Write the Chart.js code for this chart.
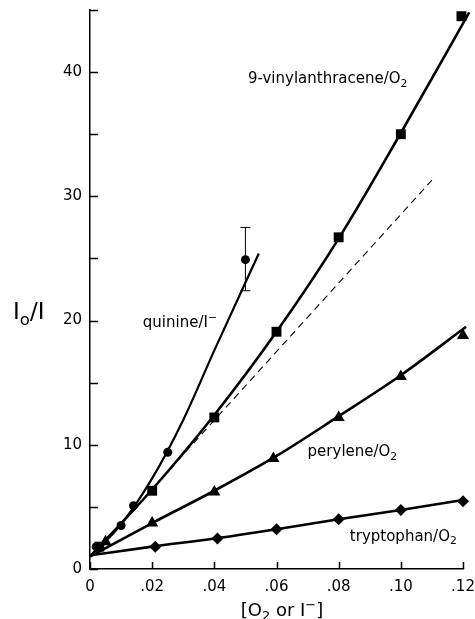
<!DOCTYPE html>
<html>
<head>
<meta charset="utf-8">
<script src="https://cdn.jsdelivr.net/npm/chart.js@4.4.1/dist/chart.umd.min.js"></script>
<style>
  html, body { margin: 0; padding: 0; background: #fff; }
  #wrap { width: 475px; height: 619px; position: relative; }
</style>
</head>
<body>
<div id="wrap"><canvas id="chartQuench"></canvas></div>
<script>
// measured points
const vinylX = [0.003, 0.02, 0.04, 0.06, 0.08, 0.10, 0.1195];
const vinylY = [1.8, 6.3, 12.2, 19.1, 26.7, 35.0, 44.5];
const quinineX = [0.002, 0.010, 0.014, 0.025, 0.050];
const quinineY = [1.8, 3.5, 5.1, 9.4, 24.9];
const peryleneX = [0.005, 0.02, 0.04, 0.059, 0.08, 0.10, 0.12];
const peryleneY = [2.2, 3.7, 6.2, 8.9, 12.2, 15.5, 18.8];
const tryptoX = [0.021, 0.041, 0.06, 0.08, 0.10, 0.12];
const tryptoY = [1.8, 2.45, 3.2, 4.0, 4.75, 5.45];

// error bar on last quinine point
const errX = [0.05];
const errLow = [22.4];
const errHigh = [27.5];

// drawn curves
const vinylFitX = [0, 0.02, 0.04, 0.06, 0.08, 0.10, 0.122];
const vinylFitY = [1.0, 6.4, 12.4, 19.1, 26.6, 35.1, 44.8];
const quinineFitX = [0, 0.01, 0.02, 0.03, 0.04, 0.0543];
const quinineFitY = [1.0, 3.6, 7.3, 12.0, 17.6, 25.4];
const peryleneFitX = [0, 0.02, 0.04, 0.06, 0.08, 0.10, 0.121];
const peryleneFitY = [1.0, 3.7, 6.3, 9.1, 12.3, 15.6, 19.5];
const tryptoFitX = [0, 0.02, 0.04, 0.06, 0.08, 0.10, 0.121];
const tryptoFitY = [1.1, 1.8, 2.45, 3.2, 4.0, 4.75, 5.6];
const dashX = [0.01, 0.11];
const dashY = [3.7, 31.3];

const xTicks = [0, 0.02, 0.04, 0.06, 0.08, 0.10, 0.12];
const yLabelTicks = [0, 10, 20, 30, 40];
const yTicks = [0, 5, 10, 15, 20, 25, 30, 35, 40, 45];

const FONT = '"DejaVu Sans", sans-serif';

function pts(xs, ys) {
  return xs.map((x, i) => ({ x: x, y: ys[i] }));
}

function markers(xs, ys, style, r) {
  return {
    data: pts(xs, ys),
    showLine: false,
    pointStyle: style,
    pointRadius: r,
    backgroundColor: '#000',
    borderColor: '#000',
    borderWidth: 0
  };
}

function curve(xs, ys, width, dash) {
  return {
    data: pts(xs, ys),
    showLine: true,
    pointRadius: 0,
    borderColor: '#000',
    borderWidth: width,
    borderDash: dash || [],
    cubicInterpolationMode: 'monotone',
    fill: false
  };
}

// draws text runs with sub / superscripts
function drawRuns(ctx, runs, x, y, size, align) {
  ctx.save();
  ctx.textBaseline = 'middle';
  ctx.textAlign = 'left';
  let total = 0;
  runs.forEach(r => {
    const fs = r.sub || r.sup ? size * 0.72 : size;
    ctx.font = fs + 'px ' + FONT;
    r.w = ctx.measureText(r.t).width;
    r.fs = fs;
    total += r.w;
  });
  let cx = align === 'center' ? x - total / 2 : x;
  runs.forEach(r => {
    ctx.font = r.fs + 'px ' + FONT;
    let dy = 0;
    if (r.sub) dy = size * 0.32;
    if (r.sup) dy = -size * 0.3;
    ctx.fillText(r.t, cx, y + dy);
    cx += r.w;
  });
  ctx.restore();
}

const figurePlugin = {
  id: 'figure',
  afterDatasetsDraw(chart) {
    const ctx = chart.ctx;
    const xs = chart.scales.x;
    const ys = chart.scales.y;
    const area = chart.chartArea;

    ctx.save();
    ctx.strokeStyle = '#000';
    ctx.lineWidth = 1.5;
    // inward ticks
    yTicks.forEach(v => {
      const py = Math.round(ys.getPixelForValue(v)) + 0.5;
      ctx.beginPath();
      ctx.moveTo(area.left, py);
      ctx.lineTo(area.left + 8, py);
      ctx.stroke();
    });
    xTicks.forEach(v => {
      const px = Math.round(xs.getPixelForValue(v)) + 0.5;
      ctx.beginPath();
      ctx.moveTo(px, area.bottom);
      ctx.lineTo(px, area.bottom - 7);
      ctx.stroke();
    });

    // error bar
    ctx.lineWidth = 1;
    errX.forEach((v, i) => {
      const px = xs.getPixelForValue(v);
      const top = ys.getPixelForValue(errHigh[i]);
      const bot = ys.getPixelForValue(errLow[i]);
      ctx.beginPath();
      ctx.moveTo(px, top);
      ctx.lineTo(px, bot);
      ctx.moveTo(px - 5, top);
      ctx.lineTo(px + 5, top);
      ctx.moveTo(px - 5, bot);
      ctx.lineTo(px + 5, bot);
      ctx.stroke();
    });
    ctx.restore();

    ctx.fillStyle = '#000';
    // series labels
    drawRuns(ctx, [{ t: '9-vinylanthracene/O' }, { t: '2', sub: true }],
      xs.getPixelForValue(0.0508), ys.getPixelForValue(39.4), 15, 'left');
    drawRuns(ctx, [{ t: 'quinine/I' }, { t: '\u2212', sup: true }],
      xs.getPixelForValue(0.017), ys.getPixelForValue(19.8), 15, 'left');
    drawRuns(ctx, [{ t: 'perylene/O' }, { t: '2', sub: true }],
      xs.getPixelForValue(0.070), ys.getPixelForValue(9.4), 15, 'left');
    drawRuns(ctx, [{ t: 'tryptophan/O' }, { t: '2', sub: true }],
      xs.getPixelForValue(0.0836), ys.getPixelForValue(2.6), 15, 'left');

    // axis titles
    drawRuns(ctx, [{ t: 'I' }, { t: 'o', sub: true }, { t: '/I' }], 13, 313, 23, 'left');
    drawRuns(ctx, [{ t: '[O' }, { t: '2', sub: true }, { t: ' or I' }, { t: '\u2212', sup: true }, { t: ']' }],
      282, 611, 18, 'center');
  }
};

const ctx = document.getElementById('chartQuench').getContext('2d');

new Chart(ctx, {
  type: 'scatter',
  data: {
    datasets: [
      curve(vinylFitX, vinylFitY, 2.6),
      curve(quinineFitX, quinineFitY, 2.2),
      curve(peryleneFitX, peryleneFitY, 2.6),
      curve(tryptoFitX, tryptoFitY, 2.6),
      curve(dashX, dashY, 1.1, [7, 5]),
      markers(vinylX, vinylY, 'rect', 7),
      markers(quinineX, quinineY, 'circle', 4.5),
      markers(peryleneX, peryleneY, 'triangle', 7),
      markers(tryptoX, tryptoY, 'rectRot', 6)
    ]
  },
  options: {
    responsive: true,
    maintainAspectRatio: false,
    animation: false,
    clip: false,
    layout: { padding: { left: 0, right: 12, top: 10, bottom: 0 } },
    plugins: {
      legend: { display: false },
      tooltip: { enabled: false }
    },
    scales: {
      x: {
        type: 'linear',
        min: 0,
        max: 0.12,
        afterFit: s => { s.height = 50; s.paddingLeft = 0; s.paddingRight = 0; },
        afterBuildTicks: s => { s.ticks = xTicks.map(v => ({ value: v })); },
        grid: { display: false },
        border: { display: true, color: '#000', width: 1.5 },
        ticks: {
          color: '#000',
          padding: 1,
          font: { family: FONT, size: 15 },
          callback: v => {
            const n = Math.round(v * 100);
            if (n === 0) return '0';
            return '.' + String(n).padStart(2, '0');
          }
        }
      },
      y: {
        type: 'linear',
        min: 0,
        max: 45,
        afterFit: s => { s.width = 90; s.paddingTop = 0; s.paddingBottom = 0; },
        afterBuildTicks: s => { s.ticks = yLabelTicks.map(v => ({ value: v })); },
        grid: { display: false },
        border: { display: true, color: '#000', width: 1.5 },
        ticks: {
          color: '#000',
          padding: 0,
          font: { family: FONT, size: 15 },
          callback: v => String(v)
        }
      }
    }
  },
  plugins: [figurePlugin]
});
</script>
</body>
</html>
